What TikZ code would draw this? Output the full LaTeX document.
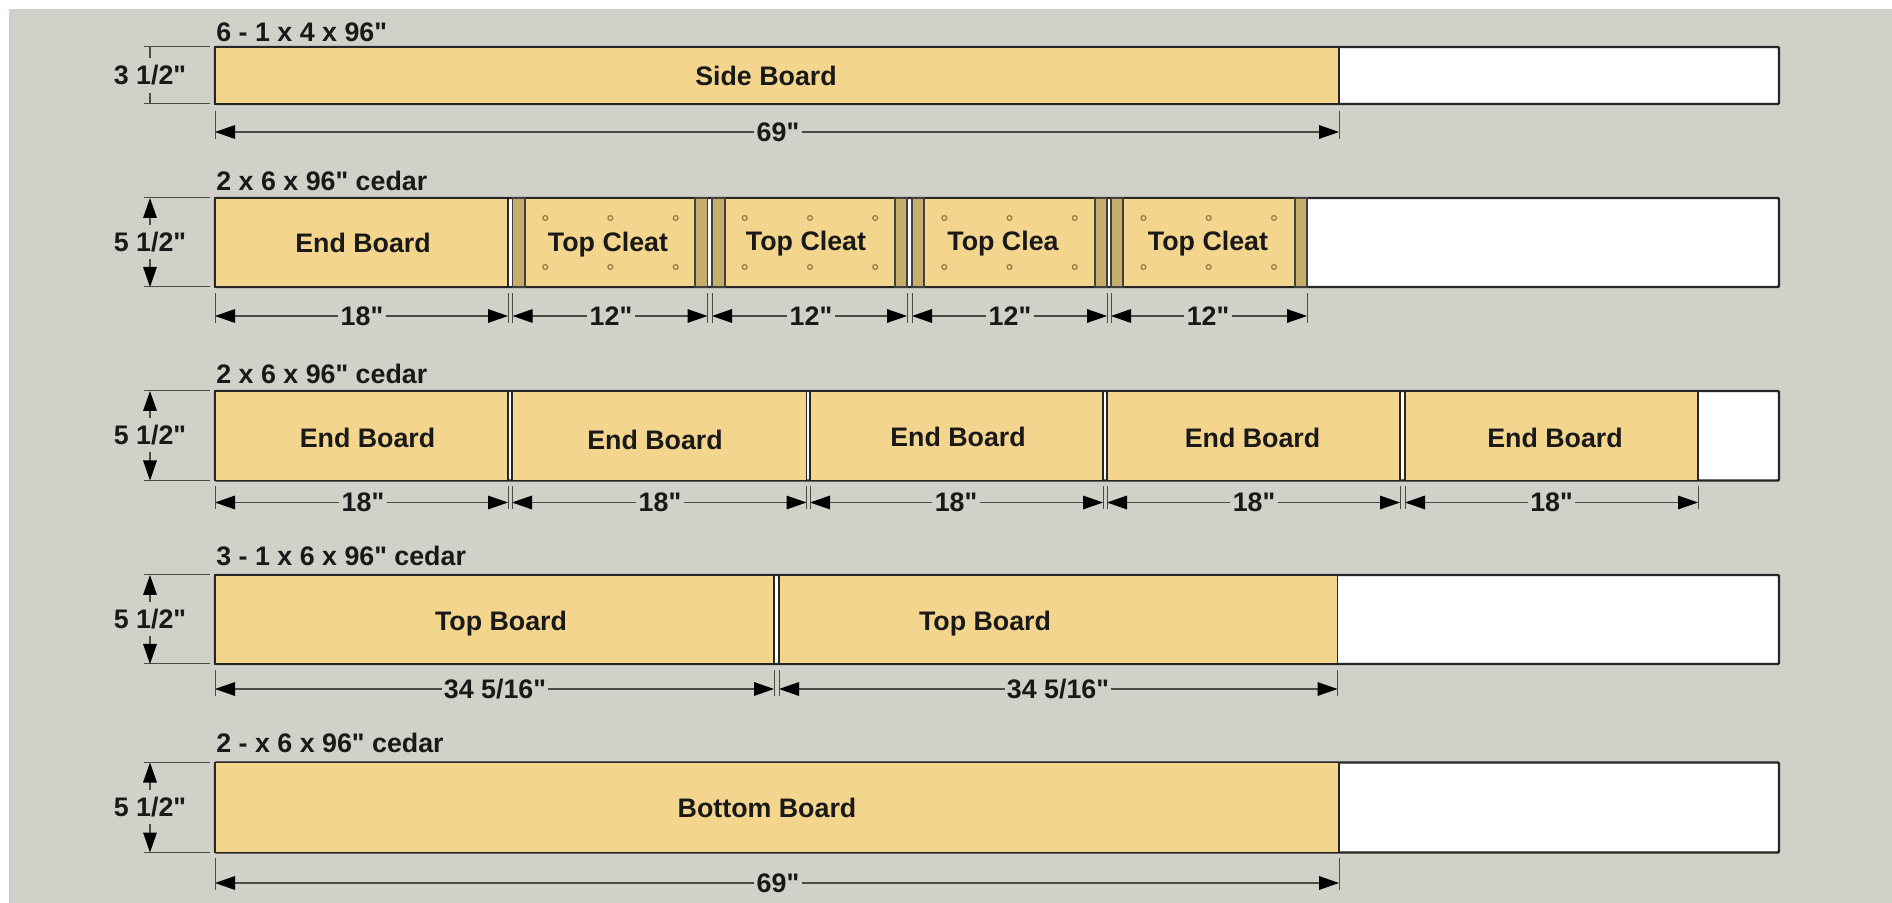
\documentclass[tikz,border=0pt]{standalone}
\usepackage{fontspec}
\newfontfamily\planfont{Liberation Sans}
\usetikzlibrary{arrows.meta}
\definecolor{wall}{HTML}{D1D1C9}
\definecolor{pine}{HTML}{F3D58D}
\definecolor{cleat}{HTML}{C6AE6C}
\definecolor{dimgray}{HTML}{4A4A46}
\definecolor{holeedge}{HTML}{8F7C3E}
\begin{document}
\begin{tikzpicture}[x=0.5pt,y=-0.5pt,
  plank/.style={draw=black!85,line width=1.2pt,fill=white,rounded corners=0.6pt},
  board/.style={draw=black!85,line width=0.9pt,fill=pine},
  strip/.style={draw=black!75,line width=0.7pt,fill=cleat},
  hole/.style={draw=holeedge,line width=0.6pt},
  extline/.style={draw=dimgray,line width=0.5pt},
  dimline/.style={draw=dimgray,line width=0.6pt,-{Triangle[length=10pt,width=6.8pt,black]}},
  stubline/.style={draw=dimgray,line width=0.6pt},
  txt/.style={font=\planfont\bfseries\fontsize{13.4}{15}\selectfont,text=black!90},
  dimtxt/.style={txt,inner xsep=1pt,inner ysep=3.5pt}]
\tikzstyle{every node}+=[inner sep=0pt]
\useasboundingbox (0,0) rectangle (1892,903);
\fill [white] (0,0) rectangle (1892,903);
\fill [wall] (9,9) rectangle (1892,903);
% row 1
\draw [plank] (215,47) rectangle (1779,104);
\draw [board] (215,47) rectangle (1339,104);
\node [txt,anchor=base west] (titleA) at (216,42) {6 - 1 x 4 x 96"};
\node [txt] (sideA) at (766,76) {Side Board};
\coordinate (hA1) at (150,47);
\coordinate (hA2) at (150,104);
\node [dimtxt] (heightA) at (150,75.5) {3 1/2"};
\draw [extline] (144,47) -- (210,47);
\draw [extline] (144,104) -- (210,104);
\draw [stubline] (heightA) -- (hA1);
\draw [stubline] (heightA) -- (hA2);
\coordinate (dA1) at (215,132);
\coordinate (dA2) at (1339,132);
\node [dimtxt] (lenA) at (778,132) {69"};
\draw [dimline] (lenA) -- (dA1);
\draw [dimline] (lenA) -- (dA2);
\draw [extline] (dA1) ++(0,-21) -- ++(0,28);
\draw [extline] (dA2) ++(0,-21) -- ++(0,28);
% row 2
\draw [plank] (215,198) rectangle (1779,287);
\draw [board] (215,198) rectangle (508,287);
\draw [board] (512.7,198) rectangle (707.5,287);
\draw [board] (712,198) rectangle (907,287);
\draw [board] (912,198) rectangle (1107,287);
\draw [board] (1111,198) rectangle (1307,287);
\draw [strip] (512.7,198) rectangle (525,287);
\draw [strip] (695,198) rectangle (707.5,287);
\draw [strip] (712,198) rectangle (725,287);
\draw [strip] (895,198) rectangle (907,287);
\draw [strip] (912,198) rectangle (924,287);
\draw [strip] (1095,198) rectangle (1107,287);
\draw [strip] (1111,198) rectangle (1123,287);
\draw [strip] (1295,198) rectangle (1307,287);
\draw [hole] (545.3,218) circle (2.4) (610.3,218) circle (2.4) (675.7,218) circle (2.4)
  (545.3,267) circle (2.4) (610.3,267) circle (2.4) (675.7,267) circle (2.4);
\draw [hole] (744.7,218) circle (2.4) (810,218) circle (2.4) (875.2,218) circle (2.4)
  (744.7,267) circle (2.4) (810,267) circle (2.4) (875.2,267) circle (2.4);
\draw [hole] (944.3,218) circle (2.4) (1009.5,218) circle (2.4) (1074.7,218) circle (2.4)
  (944.3,267) circle (2.4) (1009.5,267) circle (2.4) (1074.7,267) circle (2.4);
\draw [hole] (1143.5,218) circle (2.4) (1208.7,218) circle (2.4) (1274,218) circle (2.4)
  (1143.5,267) circle (2.4) (1208.7,267) circle (2.4) (1274,267) circle (2.4);
\node [txt,anchor=base west] (titleB) at (216,191) {2 x 6 x 96" cedar};
\node [txt] (endB) at (363,243) {End Board};
\node [txt] (cleatB1) at (608,244.5) {Top Cleat};
\node [txt] (cleatB2) at (806,243.5) {Top Cleat};
\node [txt] (cleatB3) at (1003,243.5) {Top Clea};
\node [txt] (cleatB4) at (1208,243.5) {Top Cleat};
\coordinate (hB1) at (150,198);
\coordinate (hB2) at (150,287);
\node [dimtxt] (heightB) at (150,242) {5 1/2"};
\draw [extline] (144,198) -- (210,198);
\draw [extline] (144,287) -- (210,287);
\draw [dimline] (heightB) -- (hB1);
\draw [dimline] (heightB) -- (hB2);
\coordinate (dB1) at (215,316);
\coordinate (dB2) at (508,316);
\coordinate (dB3) at (512.7,316);
\coordinate (dB4) at (707.5,316);
\coordinate (dB5) at (712,316);
\coordinate (dB6) at (907,316);
\coordinate (dB7) at (912,316);
\coordinate (dB8) at (1107,316);
\coordinate (dB9) at (1111,316);
\coordinate (dB10) at (1307,316);
\node [dimtxt] (lenB1) at (362,316) {18"};
\node [dimtxt] (lenB2) at (611,316) {12"};
\node [dimtxt] (lenB3) at (811,316) {12"};
\node [dimtxt] (lenB4) at (1010,316) {12"};
\node [dimtxt] (lenB5) at (1208,316) {12"};
\draw [dimline] (lenB1) -- (dB1);
\draw [dimline] (lenB1) -- (dB2);
\draw [dimline] (lenB2) -- (dB3);
\draw [dimline] (lenB2) -- (dB4);
\draw [dimline] (lenB3) -- (dB5);
\draw [dimline] (lenB3) -- (dB6);
\draw [dimline] (lenB4) -- (dB7);
\draw [dimline] (lenB4) -- (dB8);
\draw [dimline] (lenB5) -- (dB9);
\draw [dimline] (lenB5) -- (dB10);
\draw [extline] (dB1) ++(0,-23) -- ++(0,30);
\draw [extline] (dB2) ++(0,-23) -- ++(0,30);
\draw [extline] (dB3) ++(0,-23) -- ++(0,30);
\draw [extline] (dB4) ++(0,-23) -- ++(0,30);
\draw [extline] (dB5) ++(0,-23) -- ++(0,30);
\draw [extline] (dB6) ++(0,-23) -- ++(0,30);
\draw [extline] (dB7) ++(0,-23) -- ++(0,30);
\draw [extline] (dB8) ++(0,-23) -- ++(0,30);
\draw [extline] (dB9) ++(0,-23) -- ++(0,30);
\draw [extline] (dB10) ++(0,-23) -- ++(0,30);
% row 3
\draw [plank] (215,391) rectangle (1779,480.5);
\draw [board] (215,391) rectangle (508,480.5);
\draw [board] (512,391) rectangle (806.5,480.5);
\draw [board] (810,391) rectangle (1103,480.5);
\draw [board] (1107,391) rectangle (1400,480.5);
\draw [board] (1405,391) rectangle (1698,480.5);
\node [txt,anchor=base west] (titleC) at (216,384) {2 x 6 x 96" cedar};
\node [txt] (endC1) at (367.5,438) {End Board};
\node [txt] (endC2) at (655,440) {End Board};
\node [txt] (endC3) at (958,437) {End Board};
\node [txt] (endC4) at (1252.5,438) {End Board};
\node [txt] (endC5) at (1555,438) {End Board};
\coordinate (hC1) at (150,391);
\coordinate (hC2) at (150,480.5);
\node [dimtxt] (heightC) at (150,435) {5 1/2"};
\draw [extline] (144,391) -- (210,391);
\draw [extline] (144,480.5) -- (210,480.5);
\draw [dimline] (heightC) -- (hC1);
\draw [dimline] (heightC) -- (hC2);
\coordinate (dC1) at (215,502.5);
\coordinate (dC2) at (508,502.5);
\coordinate (dC3) at (512,502.5);
\coordinate (dC4) at (806.5,502.5);
\coordinate (dC5) at (810,502.5);
\coordinate (dC6) at (1103,502.5);
\coordinate (dC7) at (1107,502.5);
\coordinate (dC8) at (1400,502.5);
\coordinate (dC9) at (1405,502.5);
\coordinate (dC10) at (1698,502.5);
\node [dimtxt] (lenC1) at (363,502.5) {18"};
\node [dimtxt] (lenC2) at (660,502.5) {18"};
\node [dimtxt] (lenC3) at (956,502.5) {18"};
\node [dimtxt] (lenC4) at (1254,502.5) {18"};
\node [dimtxt] (lenC5) at (1551.5,502.5) {18"};
\draw [dimline] (lenC1) -- (dC1);
\draw [dimline] (lenC1) -- (dC2);
\draw [dimline] (lenC2) -- (dC3);
\draw [dimline] (lenC2) -- (dC4);
\draw [dimline] (lenC3) -- (dC5);
\draw [dimline] (lenC3) -- (dC6);
\draw [dimline] (lenC4) -- (dC7);
\draw [dimline] (lenC4) -- (dC8);
\draw [dimline] (lenC5) -- (dC9);
\draw [dimline] (lenC5) -- (dC10);
\draw [extline] (dC1) ++(0,-16.5) -- ++(0,23.5);
\draw [extline] (dC2) ++(0,-16.5) -- ++(0,23.5);
\draw [extline] (dC3) ++(0,-16.5) -- ++(0,23.5);
\draw [extline] (dC4) ++(0,-16.5) -- ++(0,23.5);
\draw [extline] (dC5) ++(0,-16.5) -- ++(0,23.5);
\draw [extline] (dC6) ++(0,-16.5) -- ++(0,23.5);
\draw [extline] (dC7) ++(0,-16.5) -- ++(0,23.5);
\draw [extline] (dC8) ++(0,-16.5) -- ++(0,23.5);
\draw [extline] (dC9) ++(0,-16.5) -- ++(0,23.5);
\draw [extline] (dC10) ++(0,-16.5) -- ++(0,23.5);
% row 4
\draw [plank] (215,575) rectangle (1779,664);
\draw [board] (215,575) rectangle (774,664);
\draw [board] (779,575) rectangle (1337.5,664);
\node [txt,anchor=base west] (titleD) at (216,566) {3 - 1 x 6 x 96" cedar};
\node [txt] (topD1) at (501,623.5) {Top Board};
\node [txt] (topD2) at (985,623.5) {Top Board};
\coordinate (hD1) at (150,575);
\coordinate (hD2) at (150,664);
\node [dimtxt] (heightD) at (150,619) {5 1/2"};
\draw [extline] (144,575) -- (210,575);
\draw [extline] (144,664) -- (210,664);
\draw [dimline] (heightD) -- (hD1);
\draw [dimline] (heightD) -- (hD2);
\coordinate (dD1) at (215,689);
\coordinate (dD2) at (774,689);
\coordinate (dD3) at (779,689);
\coordinate (dD4) at (1337.5,689);
\node [dimtxt] (lenD1) at (495,689) {34 5/16"};
\node [dimtxt] (lenD2) at (1058,689) {34 5/16"};
\draw [dimline] (lenD1) -- (dD1);
\draw [dimline] (lenD1) -- (dD2);
\draw [dimline] (lenD2) -- (dD3);
\draw [dimline] (lenD2) -- (dD4);
\draw [extline] (dD1) ++(0,-19) -- ++(0,26);
\draw [extline] (dD2) ++(0,-19) -- ++(0,26);
\draw [extline] (dD3) ++(0,-19) -- ++(0,26);
\draw [extline] (dD4) ++(0,-19) -- ++(0,26);
% row 5
\draw [plank] (215,762.5) rectangle (1779,852.5);
\draw [board] (215,762.5) rectangle (1339,852.5);
\node [txt,anchor=base west] (titleE) at (216,752.5) {2 - x 6 x 96" cedar};
\node [txt] (bottomE) at (767,808) {Bottom Board};
\coordinate (hE1) at (150,762.5);
\coordinate (hE2) at (150,852.5);
\node [dimtxt] (heightE) at (150,807) {5 1/2"};
\draw [extline] (144,762.5) -- (210,762.5);
\draw [extline] (144,852.5) -- (210,852.5);
\draw [dimline] (heightE) -- (hE1);
\draw [dimline] (heightE) -- (hE2);
\coordinate (dE1) at (215,883);
\coordinate (dE2) at (1339,883);
\node [dimtxt] (lenE) at (778,883) {69"};
\draw [dimline] (lenE) -- (dE1);
\draw [dimline] (lenE) -- (dE2);
\draw [extline] (dE1) ++(0,-25) -- ++(0,32);
\draw [extline] (dE2) ++(0,-25) -- ++(0,32);
\end{tikzpicture}
\end{document}
